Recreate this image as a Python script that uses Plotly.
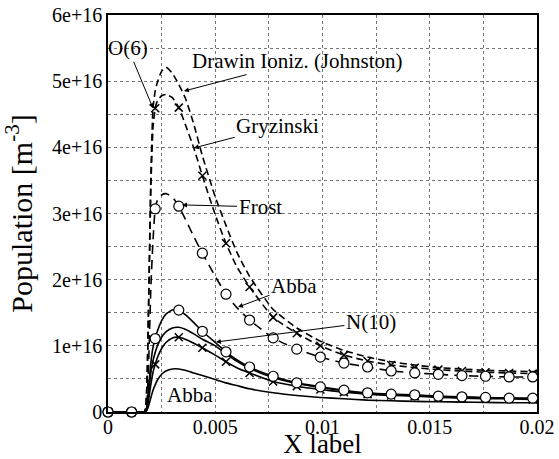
import numpy as np
import plotly.graph_objects as go

# ---------------- data (population in units of 1e16 m^-3) ----------------
X = [0, 0.0011, 0.0017, 0.0018, 0.0019, 0.0020, 0.0021, 0.0022, 0.0023, 0.0025,
     0.0027, 0.0030, 0.0033, 0.0036, 0.0040, 0.0044, 0.0050, 0.0055, 0.0060, 0.0066,
     0.0077, 0.0088, 0.0099, 0.0110, 0.0121, 0.0132, 0.0143, 0.0154, 0.0165, 0.0176,
     0.0187, 0.0198, 0.0200]

MARKER_X = [0, 0.0011, 0.0022, 0.0033, 0.0044, 0.0055, 0.0066, 0.0077, 0.0088, 0.0099,
            0.0110, 0.0121, 0.0132, 0.0143, 0.0154, 0.0165, 0.0176, 0.0187, 0.0198]

o6_drawin = [0, 0, 0, 0.3, 1.8, 3.6, 4.6, 4.85, 4.98, 5.15, 5.21, 5.12, 4.95, 4.75, 4.35,
             3.87, 3.25, 2.82, 2.42, 2.05, 1.55, 1.27, 1.07, 0.93, 0.83, 0.76, 0.71, 0.67,
             0.65, 0.63, 0.62, 0.61, 0.61]
o6_gryzinski = [0, 0, 0, 0.3, 1.7, 3.4, 4.3, 4.59, 4.7, 4.78, 4.8, 4.75, 4.6, 4.35, 3.99,
                3.57, 2.98, 2.55, 2.2, 1.89, 1.43, 1.19, 1.0, 0.86, 0.77, 0.71, 0.67, 0.64,
                0.62, 0.6, 0.59, 0.58, 0.58]
o6_frost = [0, 0, 0, 0.1, 0.8, 1.9, 2.6, 3.07, 3.2, 3.28, 3.3, 3.25, 3.11, 2.92, 2.65,
            2.4, 2.05, 1.78, 1.58, 1.39, 1.12, 0.95, 0.83, 0.74, 0.68, 0.62, 0.59, 0.57,
            0.55, 0.54, 0.53, 0.53, 0.53]
n10_frost = [0, 0, 0, 0.05, 0.4, 0.75, 0.98, 1.11, 1.22, 1.38, 1.48, 1.54, 1.54, 1.47, 1.35,
             1.22, 1.05, 0.91, 0.79, 0.68, 0.54, 0.44, 0.38, 0.33, 0.29, 0.27, 0.26, 0.24,
             0.23, 0.22, 0.21, 0.21, 0.21]
n10_drawin = [0, 0, 0, 0.05, 0.3, 0.6, 0.78, 0.9, 1.0, 1.13, 1.21, 1.27, 1.28, 1.25, 1.18,
              1.1, 1.0, 0.88, 0.77, 0.66, 0.52, 0.43, 0.37, 0.32, 0.28, 0.26, 0.25, 0.23,
              0.22, 0.21, 0.21, 0.2, 0.2]
n10_gryzinski = [0, 0, 0, 0.03, 0.2, 0.42, 0.6, 0.72, 0.82, 0.96, 1.05, 1.12, 1.13, 1.1, 1.04,
                 0.97, 0.86, 0.76, 0.67, 0.59, 0.46, 0.39, 0.34, 0.3, 0.27, 0.25, 0.24, 0.22,
                 0.21, 0.2, 0.2, 0.19, 0.19]
n10_abba = [0, 0, 0, 0.02, 0.1, 0.22, 0.33, 0.41, 0.48, 0.57, 0.62, 0.65, 0.65, 0.63, 0.59,
            0.55, 0.49, 0.44, 0.4, 0.35, 0.29, 0.25, 0.22, 0.2, 0.18, 0.17, 0.16, 0.155,
            0.15, 0.145, 0.14, 0.14, 0.14]

Y_UNIT = 1e16
X_TICKS = [0, 0.005, 0.01, 0.015, 0.02]
X_TICK_TEXT = ["0", "0.005", "0.01", "0.015", "0.02"]
Y_TICKS = [0, 1, 2, 3, 4, 5, 6]
Y_TICK_TEXT = ["0", "1e+16", "2e+16", "3e+16", "4e+16", "5e+16", "6e+16"]

# ---------------- figure ----------------
FONT = "Liberation Serif"
xa = np.array(X)
mask = np.array([np.any(np.isclose(v, MARKER_X, atol=1e-9)) for v in xa])

fig = go.Figure()

def add_curve(vals, dash, marker=None):
    y = np.array(vals) * Y_UNIT
    fig.add_trace(go.Scatter(
        x=xa, y=y, mode="lines",
        line=dict(color="black", width=1.6, dash=dash, shape="spline", smoothing=0.5),
        showlegend=False, hoverinfo="skip"))
    if marker == "circle":
        fig.add_trace(go.Scatter(
            x=xa[mask], y=y[mask], mode="markers",
            marker=dict(symbol="circle", size=10, color="white",
                        line=dict(color="black", width=1.2)),
            showlegend=False, hoverinfo="skip", cliponaxis=False))
    elif marker == "x":
        fig.add_trace(go.Scatter(
            x=xa[mask], y=y[mask], mode="markers",
            marker=dict(symbol="x-thin-open", size=8, color="black",
                        line=dict(color="black", width=1.5)),
            showlegend=False, hoverinfo="skip", cliponaxis=False))

add_curve(o6_drawin, "7px,4px")
add_curve(o6_gryzinski, "7px,4px", "x")
add_curve(o6_frost, "9px,6px", "circle")
add_curve(n10_abba, "solid")
add_curve(n10_gryzinski, "solid", "x")
add_curve(n10_drawin, "solid")
add_curve(n10_frost, "solid", "circle")

ann_font = dict(family=FONT, size=21, color="black")

def arrow(text, x, y, ax, ay):
    fig.add_annotation(x=x, y=y * Y_UNIT, text=text, ax=ax, ay=ay,
                       showarrow=True, arrowhead=2, arrowsize=1, arrowwidth=1,
                       arrowcolor="black", font=ann_font)

arrow("O(6)", 0.0021, 4.59, -25, -60)
arrow("Drawin Ioniz. (Johnston)", 0.00354, 4.85, 114, -30)
arrow("Gryzinski", 0.0040, 3.99, 84, -22)
arrow("Frost", 0.00345, 3.13, 78, 2)
arrow("Abba", 0.00606, 1.586, 56, -21)
arrow("N(10)", 0.00503, 1.057, 155, -20)
fig.add_annotation(x=0.00382, y=0.257 * Y_UNIT, text="Abba", showarrow=False, font=ann_font)

axis_common = dict(
    showline=True, linecolor="black", linewidth=1.5, mirror=True,
    showgrid=True, gridcolor="#777", griddash="dot", gridwidth=1,
    zeroline=False, ticks="", automargin=False,
    tickfont=dict(family=FONT, size=20, color="black"),
)

fig.update_xaxes(range=[0, 0.02], tickvals=X_TICKS, ticktext=X_TICK_TEXT,
                 ticklabelstandoff=-4,
                 minor=dict(dtick=0.0025, showgrid=True, gridcolor="#777", griddash="dot"),
                 title=dict(text="X label", font=dict(family=FONT, size=27, color="black")),
                 **axis_common)
fig.update_yaxes(range=[0, 6 * Y_UNIT], tickvals=[v * Y_UNIT for v in Y_TICKS],
                 ticktext=Y_TICK_TEXT,
                 minor=dict(dtick=0.5 * Y_UNIT, showgrid=True, gridcolor="#777", griddash="dot"),
                 title=dict(text="Population [m<sup>-3</sup>]",
                            font=dict(family=FONT, size=30, color="black")),
                 **axis_common)

fig.update_layout(width=559, height=459,
                  margin=dict(l=108, r=22, t=15, b=47),
                  plot_bgcolor="white", paper_bgcolor="white",
                  font=dict(family=FONT, color="black"))

# remove the default page margin so the figure sits exactly in the window
fig.write_html("out.html",
               config={"displayModeBar": False},
               post_script="document.body.style.margin='0';"
                           "document.body.style.overflow='hidden';"
                           "document.documentElement.style.overflow='hidden';")
